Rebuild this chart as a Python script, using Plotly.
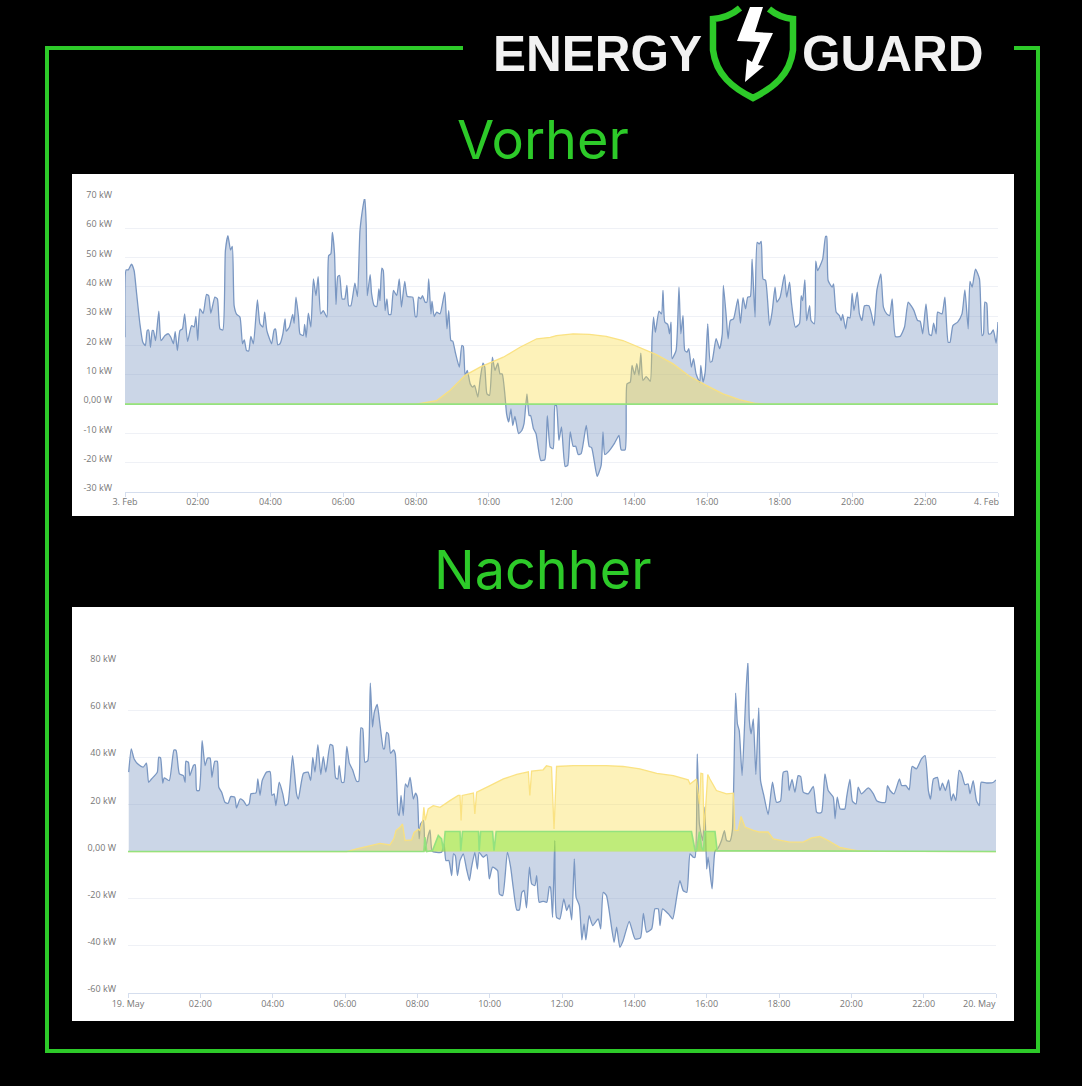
import plotly.graph_objects as go

W, H = 1082, 1086

# ---------- Vorher (3. Feb) ----------
feb_hours = [
 0.00,0.03,0.09,0.18,0.25,0.32,0.41,0.49,0.56,0.61,0.65,0.70,0.75,0.78,0.84,0.93,0.99,1.10,1.19,1.26,
 1.33,1.38,1.44,1.51,1.58,1.64,1.72,1.83,1.90,1.95,2.00,2.06,2.15,2.24,2.30,2.36,2.47,2.54,2.61,2.69,
 2.76,2.83,2.90,2.95,3.00,3.07,3.16,3.23,3.28,3.34,3.40,3.46,3.53,3.64,3.71,3.79,3.84,3.90,4.03,4.10,
 4.14,4.20,4.26,4.34,4.40,4.43,4.52,4.61,4.65,4.70,4.77,4.81,4.90,4.94,4.98,5.04,5.11,5.18,5.25,5.31,
 5.38,5.45,5.55,5.60,5.66,5.70,5.76,5.80,5.85,5.90,5.97,6.04,6.10,6.15,6.21,6.32,6.39,6.46,6.54,6.59,
 6.63,6.66,6.74,6.78,6.85,6.92,6.98,7.01,7.06,7.10,7.15,7.20,7.25,7.31,7.38,7.47,7.54,7.60,7.69,7.76,
 7.91,7.98,8.02,8.07,8.13,8.18,8.25,8.30,8.35,8.41,8.44,8.50,8.57,8.66,8.79,8.85,8.90,8.96,9.01,9.08,
 9.19,9.26,9.30,9.35,9.41,9.49,9.56,9.61,9.70,9.76,9.84,9.89,9.95,10.02,10.10,10.17,10.25,10.31,10.37,10.45,
 10.49,10.55,10.61,10.66,10.72,10.82,10.91,10.97,11.05,11.11,11.15,11.23,11.30,11.43,11.54,11.61,11.69,11.77,11.82,11.86,
 11.93,12.00,12.10,12.17,12.24,12.32,12.39,12.46,12.54,12.68,12.76,12.83,12.98,13.09,13.14,13.19,13.28,13.46,13.58,13.64,
 13.75,13.80,13.89,13.94,14.01,14.07,14.13,14.18,14.24,14.33,14.44,14.49,14.53,14.58,14.68,14.75,14.79,14.84,14.92,14.97,
 15.01,15.04,15.15,15.23,15.28,15.34,15.39,15.45,15.50,15.57,15.63,15.70,15.80,15.83,15.89,15.95,16.02,16.09,16.14,16.25,
 16.35,16.42,16.45,16.53,16.58,16.64,16.73,16.85,16.92,16.99,17.06,17.12,17.19,17.24,17.32,17.38,17.44,17.49,17.54,17.61,
 17.72,17.79,17.87,17.92,18.01,18.13,18.19,18.27,18.32,18.43,18.54,18.59,18.63,18.69,18.74,18.82,18.86,18.95,18.99,19.04,
 19.18,19.26,19.29,19.33,19.44,19.48,19.55,19.64,19.69,19.73,19.81,19.87,19.93,19.99,20.04,20.13,20.19,20.26,20.33,20.45,
 20.52,20.59,20.67,20.78,20.85,20.94,21.02,21.09,21.18,21.31,21.43,21.53,21.61,21.69,21.79,21.86,21.93,22.02,22.11,22.17,
 22.23,22.30,22.34,22.46,22.54,22.63,22.68,22.76,22.89,23.01,23.09,23.18,23.23,23.29,23.38,23.49,23.56,23.60,23.64,23.69,
 23.74,23.80,23.87,23.95,24.00]
feb_grid_kw = [
 22.8,45.8,45.8,47.8,45.6,37.6,27.4,21.1,20.0,25.1,25.3,19.4,25.1,25.1,21.7,31.7,21.7,23.4,24.0,22.8,
 20.6,24.7,18.3,25.1,25.7,30.8,21.4,26.8,26.3,29.9,21.7,32.5,31.0,37.4,37.0,31.0,36.5,35.9,25.7,25.3,
 52.4,57.5,52.6,53.8,33.6,30.6,29.7,20.6,21.9,18.3,18.1,23.1,20.6,35.6,27.4,26.3,31.4,25.1,20.6,25.3,
 25.6,20.2,20.6,24.0,29.1,24.9,26.3,30.6,27.6,36.5,29.7,24.0,23.4,27.2,22.8,31.0,26.3,42.7,37.0,43.5,
 30.8,31.9,29.7,50.7,51.3,58.6,51.3,34.0,43.5,43.9,35.9,35.9,40.5,33.6,33.6,41.3,36.7,59.2,67.2,70.6,
 61.5,37.0,44.2,37.6,33.6,33.3,39.3,35.3,46.4,45.6,31.9,35.9,30.6,30.6,38.8,37.0,42.7,33.1,41.9,36.7,
 36.5,29.9,29.9,36.5,35.9,37.0,34.8,34.8,42.7,30.8,35.1,29.9,31.4,30.8,38.2,25.7,31.9,21.7,21.5,17.7,
 12.6,20.0,19.7,9.8,11.5,6.9,5.8,6.4,2.4,8.1,14.0,12.6,3.5,3.0,16.0,11.5,14.0,10.3,10.3,2.4,
 -3.3,-6.1,-1.6,-7.3,-4.2,-10.1,-9.0,-6.7,3.5,-3.9,-3.9,-8.4,-10.1,-19.2,-19.0,-3.9,-14.7,-15.2,-0.5,-0.5,
 -12.4,-7.8,-21.3,-20.9,-9.5,-14.4,-14.4,-17.2,-16.9,-7.3,-14.4,-14.9,-24.7,-20.9,-9.5,-17.2,-16.4,-13.3,-10.7,-15.6,
 -15.6,6.9,7.5,13.2,10.1,13.8,9.8,17.4,8.1,9.4,7.8,22.8,29.7,24.5,31.7,30.8,38.8,28.0,27.2,24.0,
 28.0,15.5,18.3,39.9,24.0,30.2,18.3,17.7,18.9,12.6,15.5,10.3,7.5,13.2,7.5,10.9,27.4,14.3,14.7,22.3,
 18.9,24.0,40.5,29.7,22.3,28.5,29.1,35.9,27.6,36.3,32.5,36.5,36.7,49.5,29.7,55.2,54.7,55.5,42.7,42.2,
 26.8,31.4,39.9,34.8,36.5,44.2,36.5,41.6,34.8,26.3,27.4,37.0,35.3,42.4,28.5,33.6,28.5,27.4,48.8,45.6,
 49.5,57.2,57.2,42.2,39.9,41.0,31.4,30.2,28.5,30.6,25.7,29.7,29.4,37.8,31.9,38.2,30.8,28.5,33.6,33.6,
 30.8,26.8,38.8,44.4,33.1,30.8,30.2,35.9,23.1,23.1,26.3,34.8,33.6,31.9,28.5,28.3,24.0,34.2,23.8,23.4,
 27.6,24.0,31.4,30.8,36.5,21.1,21.1,26.8,28.0,30.8,39.0,25.7,41.9,39.9,46.1,42.7,23.4,24.0,34.8,34.4,
 24.0,24.0,25.3,20.8,28.0]
feb_pv_hours = [0,8.00,8.57,8.94,9.35,9.76,10.40,10.86,11.32,11.69,11.86,12.32,12.77,13.23,13.69,14.15,14.61,15.06,15.52,15.98,16.44,16.89,17.35,17.60,24]
feb_pv_kw = [0,0,1.2,4.7,9.8,12.6,16.0,19.4,22.3,22.8,23.4,24.0,23.8,23.1,21.7,19.4,16.9,13.8,9.5,6.4,3.5,1.5,0.2,0,0]
feb_batt_hours = [0, 24]
feb_batt_kw = [0, 0]

# ---------- Nachher (19. May) ----------
may_hours = [
 0.02,0.09,0.17,0.29,0.42,0.51,0.57,0.65,0.81,0.85,0.90,0.96,1.00,1.14,1.27,1.33,1.42,1.53,1.58,1.60,
 1.67,1.71,1.81,1.86,1.90,1.97,2.05,2.13,2.20,2.27,2.32,2.40,2.47,2.51,2.59,2.68,2.77,2.84,2.95,3.00,
 3.10,3.19,3.28,3.35,3.40,3.54,3.59,3.65,3.71,3.83,3.93,3.98,4.04,4.09,4.18,4.28,4.35,4.42,4.55,4.66,
 4.71,4.85,4.98,5.05,5.11,5.17,5.25,5.33,5.40,5.47,5.59,5.66,5.74,5.80,5.84,5.91,5.97,6.05,6.12,6.21,
 6.32,6.38,6.44,6.49,6.55,6.63,6.70,6.76,6.81,6.89,6.97,7.06,7.09,7.15,7.20,7.26,7.34,7.39,7.47,7.50,
 7.55,7.61,7.67,7.73,7.80,7.89,7.95,8.00,8.05,8.09,8.17,8.21,8.30,8.35,8.41,8.53,8.67,8.74,8.79,8.87,
 8.95,9.00,9.05,9.11,9.18,9.27,9.36,9.44,9.50,9.59,9.66,9.71,9.82,9.92,9.99,10.08,10.22,10.27,10.36,10.49,
 10.58,10.65,10.75,10.82,10.89,10.95,11.02,11.10,11.16,11.25,11.30,11.37,11.48,11.58,11.65,11.68,11.74,11.80,11.85,11.94,
 12.05,12.13,12.20,12.27,12.34,12.39,12.48,12.55,12.61,12.66,12.75,12.85,13.00,13.07,13.14,13.23,13.44,13.51,13.60,13.69,
 13.86,14.02,14.17,14.25,14.34,14.48,14.57,14.66,14.71,14.78,14.94,15.06,15.17,15.26,15.35,15.45,15.54,15.63,15.68,15.74,
 15.80,15.89,15.95,16.00,16.04,16.15,16.23,16.32,16.41,16.49,16.55,16.64,16.71,16.75,16.80,16.85,16.90,16.98,17.08,17.14,
 17.18,17.23,17.29,17.36,17.44,17.49,17.58,17.70,17.82,17.93,18.04,18.12,18.23,18.28,18.36,18.44,18.53,18.60,18.67,18.81,
 18.95,19.04,19.11,19.18,19.27,19.36,19.50,19.55,19.61,19.69,19.82,19.87,19.96,20.03,20.13,20.19,20.28,20.47,20.61,20.70,
 20.81,20.94,21.00,21.07,21.18,21.33,21.39,21.51,21.60,21.68,21.80,21.94,22.04,22.13,22.19,22.27,22.38,22.45,22.52,22.60,
 22.69,22.76,22.82,22.89,22.98,23.05,23.14,23.23,23.28,23.37,23.46,23.54,23.59,23.74,23.92,24.00]
may_grid_kw = [
 33.7,43.6,39.3,36.9,35.8,37.5,29.4,30.8,33.7,40.0,39.7,29.0,31.3,30.1,43.1,42.9,33.0,32.2,29.4,38.3,
 37.9,32.2,36.5,36.8,25.9,25.9,47.1,36.5,39.7,39.7,31.5,38.3,38.3,27.3,25.2,20.9,20.5,23.3,23.1,18.5,
 22.3,21.6,19.5,20.2,24.5,24.9,30.8,23.8,30.1,33.7,33.9,23.8,24.5,19.5,29.4,24.5,19.5,20.2,40.7,24.5,
 22.3,33.2,33.7,30.1,40.0,33.7,45.4,32.7,40.3,33.7,45.4,45.0,31.3,30.8,36.5,29.4,29.4,44.6,37.5,34.7,
 29.8,29.8,52.5,52.1,37.9,38.6,71.4,52.8,59.1,62.4,53.5,43.6,43.6,50.6,49.9,41.7,43.1,41.4,16.0,15.3,
 23.8,15.3,28.7,27.3,31.5,22.3,24.8,23.1,5.4,11.7,13.2,0.4,6.8,9.2,0.1,-0.3,-0.3,3.3,-3.8,-3.8,
 -10.2,-1.0,-1.7,-10.2,-3.8,-1.0,-7.4,-12.3,-6.6,-0.3,-7.4,-0.3,-2.4,-1.3,-11.6,-6.6,-8.1,-18.0,-18.7,-0.3,
 -6.6,-15.1,-24.8,-24.8,-17.3,-16.5,-23.9,-6.6,-13.7,-14.4,-10.2,-21.5,-21.1,-21.5,-14.9,-15.1,-27.9,4.7,-27.9,-28.6,
 -20.1,-25.0,-22.5,-29.0,-3.1,-19.4,-22.9,-37.5,-30.7,-37.5,-27.2,-31.4,-28.6,-32.8,-17.3,-18.7,-38.5,-32.1,-40.6,-37.8,
 -29.6,-37.1,-36.6,-26.2,-34.2,-32.8,-24.3,-24.3,-31.4,-24.3,-26.4,-28.6,-19.4,-12.3,-16.5,-17.3,-1.0,-2.4,-2.4,41.4,
 11.7,4.7,18.8,-7.4,-2.4,-15.8,0.1,1.6,4.7,8.9,4.7,4.4,8.9,30.1,67.2,54.2,51.3,32.2,65.5,80.8,
 55.6,49.9,56.3,32.7,61.0,30.1,23.8,15.7,29.4,20.9,21.4,33.7,34.1,25.9,30.6,25.2,32.2,31.8,25.2,24.5,
 27.6,16.7,16.3,16.7,33.0,25.9,23.1,13.9,23.1,18.1,18.1,23.1,30.6,21.4,20.2,27.3,24.5,27.0,24.5,21.6,
 20.9,20.9,28.0,25.9,24.5,30.8,28.0,28.0,26.2,36.1,35.1,39.3,40.7,25.9,22.3,30.8,31.5,25.9,29.0,25.9,
 30.4,21.6,24.5,21.6,34.4,33.0,28.4,28.7,24.5,30.1,21.6,19.5,29.4,29.1,29.3,30.4]
may_pv_hours = [
 0,6.05,6.32,6.69,6.97,7.24,7.35,7.41,7.52,7.59,7.66,7.84,7.91,8.03,8.07,8.15,8.18,8.22,8.30,8.44,
 8.63,8.90,9.13,9.18,9.21,9.24,9.55,9.59,9.64,10.01,10.38,10.75,11.07,11.11,11.16,11.48,11.57,11.71,11.78,11.85,
 12.31,12.77,13.23,13.69,14.15,14.62,15.08,15.49,15.54,15.72,15.80,15.84,15.89,15.93,15.98,16.03,16.09,16.27,16.55,16.74,
 16.78,16.87,16.95,17.06,17.29,17.47,17.70,17.84,18.30,18.67,18.90,19.13,19.36,19.68,20.15,20.61,24]
may_pv_kw = [
 0,0,1.1,2.5,3.5,2.8,5.4,8.9,10.3,11.7,4.7,5.0,8.1,9.5,8.9,13.2,18.8,13.2,18.1,19.5,
 18.8,21.6,23.8,23.8,13.2,23.8,24.8,16.0,25.2,28.0,30.8,32.7,33.8,23.8,34.1,34.7,36.4,35.9,9.6,36.1,
 36.5,36.5,36.5,36.1,35.1,33.2,32.2,30.4,28.7,30.8,20.2,33.2,33.0,9.0,20.2,32.7,30.8,25.9,24.5,24.8,
 9.0,9.0,14.9,10.4,9.0,8.3,8.3,5.4,4.0,4.0,5.8,6.4,4.7,1.8,0.4,0.1,0]
may_batt_hours = [
 0,8.18,8.21,8.26,8.42,8.58,8.67,8.72,8.77,9.18,9.20,9.25,9.69,9.71,9.75,10.08,10.12,10.18,12.00,14.00,
 15.58,15.68,15.72,15.80,15.86,15.91,15.95,16.23,16.27,16.29,24]
may_batt_kw = [
 0,0,6.1,0,0.4,6.8,5.4,0.4,8.5,8.5,0.4,8.5,8.5,0.4,8.5,8.5,0.4,8.5,8.5,8.5,
 8.5,0.4,0.4,8.5,1.8,0.4,8.5,8.5,3.2,0.4,0]

# ---------- Axis labels ----------
hour_ticks = [0,2,4,6,8,10,12,14,16,18,20,22,24]
feb_xlabels = ["3. Feb","02:00","04:00","06:00","08:00","10:00","12:00","14:00","16:00","18:00","20:00","22:00",""]
may_xlabels = ["19. May","02:00","04:00","06:00","08:00","10:00","12:00","14:00","16:00","18:00","20:00","22:00",""]
feb_end_label, may_end_label = "4. Feb", "20. May"
feb_yticks = [-30,-20,-10,0,10,20,30,40,50,60,70]
feb_ylabels = ["-30 kW","-20 kW","-10 kW","0,00 W","10 kW","20 kW","30 kW","40 kW","50 kW","60 kW","70 kW"]
may_yticks = [-60,-40,-20,0,20,40,60,80]
may_ylabels = ["-60 kW","-40 kW","-20 kW","0,00 W","20 kW","40 kW","60 kW","80 kW"]

# ---------- Styles ----------
GREEN = "#2dca29"
BLUE_LINE, BLUE_FILL = "#7a97c2", "rgba(124,152,194,0.40)"
YEL_LINE, YEL_FILL = "rgba(250,224,125,0.95)", "rgba(250,220,60,0.36)"
GRN_LINE, GRN_FILL = "#93e27f", "rgba(130,230,60,0.50)"
TICK = dict(family="Open Sans", size=9, color="#777777")

px = lambda x: x / W
py = lambda y: 1 - y / H
def path(cmds):
    out = []
    for c in cmds:
        if isinstance(c, str):
            out.append(c)
        else:
            out.append(f"{px(c[0]):.5f},{py(c[1]):.5f}")
    return " ".join(out)

fig = go.Figure()

def add_panel(suffix, h, grid, pvh, pv, bh, b):
    xa, ya = "x" + suffix, "y" + suffix
    fig.add_trace(go.Scatter(x=h, y=grid, xaxis=xa, yaxis=ya, mode="lines", fill="tozeroy",
                             fillcolor=BLUE_FILL, line=dict(color=BLUE_LINE, width=1.3, shape="spline", smoothing=0.5),
                             showlegend=False, hoverinfo="skip"))
    fig.add_trace(go.Scatter(x=pvh, y=pv, xaxis=xa, yaxis=ya, mode="lines", fill="tozeroy",
                             fillcolor=YEL_FILL, line=dict(color=YEL_LINE, width=1.3),
                             showlegend=False, hoverinfo="skip"))
    fig.add_trace(go.Scatter(x=bh, y=b, xaxis=xa, yaxis=ya, mode="lines", fill="tozeroy",
                             fillcolor=GRN_FILL, line=dict(color=GRN_LINE, width=1.6),
                             showlegend=False, hoverinfo="skip"))

add_panel("", feb_hours, feb_grid_kw, feb_pv_hours, feb_pv_kw, feb_batt_hours, feb_batt_kw)
add_panel("2", may_hours, may_grid_kw, may_pv_hours, may_pv_kw, may_batt_hours, may_batt_kw)

def xaxis(x0, x1, labels, anchor, standoff):
    return dict(domain=[px(x0), px(x1)], range=[0, 24], tickmode="array", tickvals=hour_ticks, ticktext=labels,
                showgrid=False, zeroline=False, showline=True, linecolor="#d5deee", linewidth=1, automargin=False,
                ticks="outside", ticklen=4, tickcolor="#d5deee", tickfont=TICK, anchor=anchor, ticklabelstandoff=standoff)
def yaxis(y_top, y_bot, rng, vals, labels, anchor, standoff):
    return dict(domain=[py(y_bot), py(y_top)], range=rng, tickmode="array", tickvals=vals, ticktext=labels,
                showgrid=True, gridcolor="#eff1f6", gridwidth=1, zeroline=False, showline=False, ticks="", automargin=False,
                tickfont=TICK, anchor=anchor, ticklabelstandoff=standoff, ticklabelshift=-4)

shapes = [
    dict(type="rect", xref="paper", yref="paper", x0=px(72), x1=px(1014), y0=py(516), y1=py(174),
         fillcolor="white", line_width=0, layer="below"),
    dict(type="rect", xref="paper", yref="paper", x0=px(72), x1=px(1014), y0=py(1021), y1=py(607),
         fillcolor="white", line_width=0, layer="below"),
    dict(type="path", xref="paper", yref="paper", line=dict(color=GREEN, width=4),
         path=path(["M", (463, 48), "L", (47, 48), "L", (47, 1051), "L", (1038, 1051), "L", (1038, 48), "L", (1014, 48)])),
    dict(type="path", xref="paper", yref="paper", line=dict(color=GREEN, width=6.5),
         path=path(["M", (740, 8), "C", (733, 14), (725, 18), (713, 19), "L", (713, 50), "C", (716, 75), (733, 88), (753, 98),
                    "C", (773, 88), (790, 75), (793, 50), "L", (793, 19), "C", (782, 18), (775, 14), (769, 9)])),
    dict(type="path", xref="paper", yref="paper", fillcolor="white", line_width=0,
         path=path(["M", (750, 7), "L", (763, 7), "L", (755, 32), "L", (773, 33), "L", (758, 65), "L", (764, 66),
                    "L", (745, 82), "L", (747, 59), "L", (752, 62), "L", (760, 42), "L", (737, 41), "Z"])),
]

def note(text, x, y, size, color, family, anchor="center", bold=False):
    return dict(text=f"<b>{text}</b>" if bold else text, xref="paper", yref="paper", x=px(x), y=py(y),
                xanchor=anchor, yanchor="middle", showarrow=False, font=dict(family=family, size=size, color=color))

annotations = [
    note("ENERGY", 597, 53, 49.5, "#f2f2f2", "Liberation Sans", bold=True),
    note("GUARD", 893, 53, 49.5, "#f2f2f2", "Liberation Sans", bold=True),
    note("Vorher", 543, 139, 54, GREEN, "Inter"),
    note("Nachher", 543, 569, 54, GREEN, "Inter"),
    note(feb_end_label, 986, 501, 9, "#777777", "Open Sans"),
    note(may_end_label, 979, 1003, 9, "#777777", "Open Sans"),
]

fig.update_layout(
    width=W, height=H, margin=dict(l=0, r=0, t=0, b=0, pad=0),
    paper_bgcolor="black", plot_bgcolor="rgba(0,0,0,0)", showlegend=False,
    xaxis=xaxis(125, 998, feb_xlabels, "y", -3),
    yaxis=yaxis(199, 492, [-30, 70], feb_yticks, feb_ylabels, "x", 12),
    xaxis2=xaxis(128, 996, may_xlabels, "y2", -2),
    yaxis2=yaxis(663, 993, [-60, 80], may_yticks, may_ylabels, "x2", 11),
    shapes=shapes, annotations=annotations,
)

fig.write_html("out.html", config=dict(displayModeBar=False),
               post_script="document.body.style.margin='0';document.documentElement.style.overflow='hidden';")
